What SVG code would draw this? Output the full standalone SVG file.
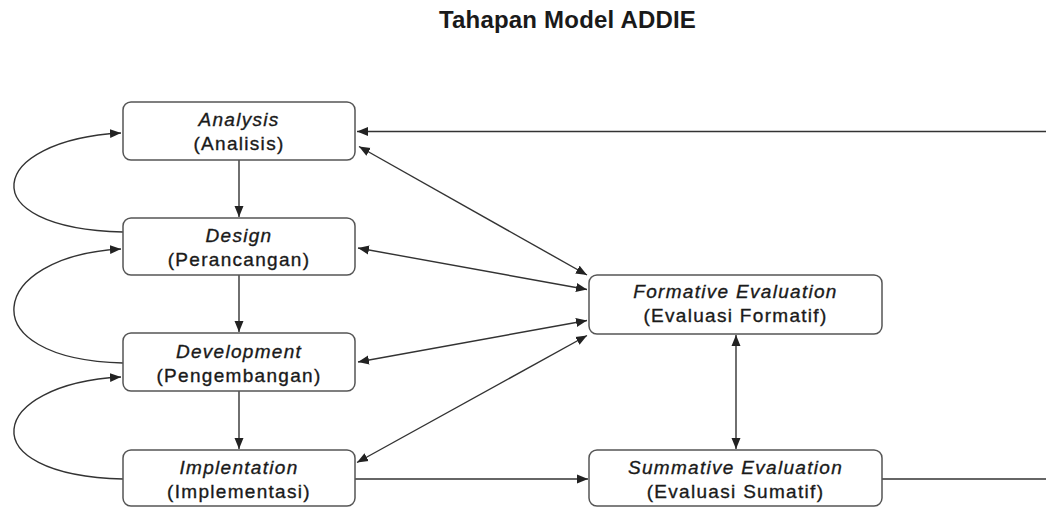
<svg xmlns="http://www.w3.org/2000/svg" width="1046" height="507" viewBox="0 0 1046 507">
<style>
.box{fill:#fff;stroke:#555;stroke-width:1.5}
.t{font-family:"Liberation Sans",Arial,sans-serif;font-size:19px;fill:#1a1a1a;stroke:#1a1a1a;stroke-width:0.35;text-anchor:middle;letter-spacing:1.3px}
.i{font-style:italic}
.c{fill:none;stroke:#333;stroke-width:1.4}
.title{font-family:"Liberation Sans",Arial,sans-serif;font-size:24px;font-weight:bold;fill:#1a1a1a;text-anchor:middle;letter-spacing:0.2px}
</style>
<defs>
<marker id="ah" markerUnits="userSpaceOnUse" markerWidth="12" markerHeight="10" viewBox="0 0 12 10" refX="11" refY="5" orient="auto-start-reverse">
<path d="M0,0.5 L11,5 L0,9.5 Z" fill="#222"/>
</marker>
</defs>
<rect width="1046" height="507" fill="#fff"/>
<text class="title" x="567.5" y="28">Tahapan Model ADDIE</text>
<g id="connectors">
<path class="c" d="M1046,131.5 L357,131.5" marker-end="url(#ah)"/>
<path class="c" d="M239,160 L239,217" marker-end="url(#ah)"/>
<path class="c" d="M239,275 L239,332" marker-end="url(#ah)"/>
<path class="c" d="M239,391 L239,449" marker-end="url(#ah)"/>
<path class="c" d="M123,232 C -32,228 -12,140 121,133" marker-end="url(#ah)"/>
<path class="c" d="M123,363 C -32,359 -12,256 121,249" marker-end="url(#ah)"/>
<path class="c" d="M123,479 C -32,475 -12,384 121,377" marker-end="url(#ah)"/>
<path class="c" d="M359,146.5 L587,275" marker-start="url(#ah)" marker-end="url(#ah)"/>
<path class="c" d="M358,248 L587,289.5" marker-start="url(#ah)" marker-end="url(#ah)"/>
<path class="c" d="M358,362 L587,320.5" marker-start="url(#ah)" marker-end="url(#ah)"/>
<path class="c" d="M357,462.5 L587,335.5" marker-start="url(#ah)" marker-end="url(#ah)"/>
<path class="c" d="M736,335 L736,449" marker-start="url(#ah)" marker-end="url(#ah)"/>
<path class="c" d="M355,479 L588,479" marker-end="url(#ah)"/>
<path class="c" d="M882,479 L1046,479"/>
</g>
<g id="analysis">
<rect class="box" x="123" y="102" width="232" height="58" rx="8"/>
<text class="t i" x="239" y="126">Analysis</text>
<text class="t" x="239" y="150">(Analisis)</text>
</g>
<g id="design">
<rect class="box" x="123" y="218" width="232" height="57" rx="8"/>
<text class="t i" x="239" y="242">Design</text>
<text class="t" x="239" y="266">(Perancangan)</text>
</g>
<g id="development">
<rect class="box" x="123" y="333" width="232" height="58" rx="8"/>
<text class="t i" x="239" y="357.5">Development</text>
<text class="t" x="239" y="381.5">(Pengembangan)</text>
</g>
<g id="implementation">
<rect class="box" x="123" y="450" width="232" height="56" rx="8"/>
<text class="t i" x="239" y="474">Implentation</text>
<text class="t" x="239" y="498">(Implementasi)</text>
</g>
<g id="formative">
<rect class="box" x="589" y="275" width="293" height="59" rx="8"/>
<text class="t i" x="735.5" y="298">Formative Evaluation</text>
<text class="t" x="735.5" y="321.5">(Evaluasi Formatif)</text>
</g>
<g id="summative">
<rect class="box" x="589" y="450" width="293" height="56" rx="8"/>
<text class="t i" x="735.5" y="474">Summative Evaluation</text>
<text class="t" x="735.5" y="498">(Evaluasi Sumatif)</text>
</g>
</svg>
